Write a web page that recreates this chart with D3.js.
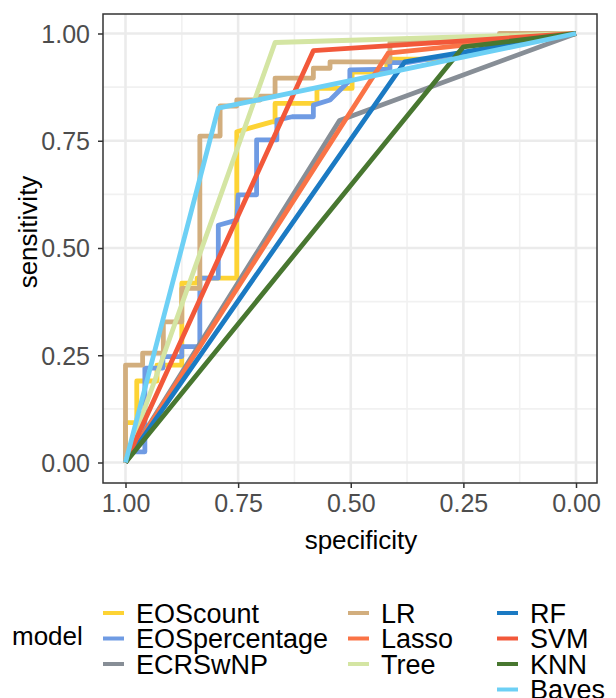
<!DOCTYPE html>
<html><head><meta charset="utf-8">
<script src="https://cdn.jsdelivr.net/npm/d3@7"></script>
<style>body{margin:0;background:#fff;} svg{display:block;font-family:"Liberation Sans",Arial,sans-serif;}</style>
</head><body>
<svg id="c" width="616" height="698"></svg>
<script>
const models = ["EOScount","EOSpercentage","ECRSwNP","LR","Lasso","Tree","RF","SVM","KNN","Bayes"];
const colors = ["#FDD334","#6F9BE3","#878E96","#D2AE7E","#FA7346","#D4E5A3","#1B7AC3","#F2583A","#487730","#6DD0F5"];
const xTicks = [1,0.75,0.5,0.25,0];
const yTicks = [0,0.25,0.5,0.75,1];

const specEOScount = [1,1,0.975,0.975,0.93,0.93,0.875,0.875,0.841,0.841,0.753,0.753,0.713,0.675,0.668,0.668,0.575,0.575,0.497,0.497,0.42,0.42,0.302,0];
const sensEOScount = [0,0.093,0.093,0.19,0.19,0.227,0.227,0.418,0.418,0.43,0.43,0.771,0.783,0.794,0.794,0.837,0.837,0.872,0.872,0.91,0.91,0.94,0.94,1];
const specEOSpercentage = [1,1,0.957,0.957,0.917,0.917,0.875,0.875,0.835,0.835,0.794,0.794,0.753,0.75,0.709,0.709,0.664,0.664,0.63,0.583,0.583,0.546,0.502,0.502,0.413,0.413,0.375,0];
const sensEOSpercentage = [0,0.025,0.025,0.22,0.22,0.247,0.247,0.27,0.27,0.43,0.43,0.553,0.565,0.624,0.624,0.752,0.752,0.798,0.806,0.806,0.833,0.845,0.891,0.915,0.917,0.932,0.932,1];
const specECRSwNP = [1,0.525,0];
const sensECRSwNP = [0,0.797,1];
const specLR = [1,1,0.962,0.962,0.916,0.916,0.875,0.875,0.835,0.835,0.79,0.79,0.753,0.753,0.701,0.701,0.668,0.668,0.583,0.583,0.546,0.546,0.413,0.413,0.17,0.17,0];
const sensLR = [0,0.227,0.227,0.255,0.255,0.328,0.328,0.406,0.406,0.761,0.761,0.831,0.831,0.845,0.845,0.854,0.854,0.896,0.896,0.919,0.919,0.934,0.934,0.98,0.98,1,1];
const specLasso = [1,0.417,0];
const sensLasso = [0,0.954,1];
const specTree = [1,0.668,0];
const sensTree = [0,0.979,1];
const specRF = [1,0.38,0];
const sensRF = [0,0.934,1];
const specSVM = [1,0.583,0];
const sensSVM = [0,0.96,1];
const specKNN = [1,0.25,0];
const sensKNN = [0,0.969,1];
const specBayes = [1,0.794,0];
const sensBayes = [0,0.826,1];

const specs = [specEOScount,specEOSpercentage,specECRSwNP,specLR,specLasso,specTree,specRF,specSVM,specKNN,specBayes];
const senss = [sensEOScount,sensEOSpercentage,sensECRSwNP,sensLR,sensLasso,sensTree,sensRF,sensSVM,sensKNN,sensBayes];

const svg = d3.select("#c");
const P = {l:103, r:597, t:14, b:483};
const x = d3.scaleLinear().domain([1,0]).range([125.5,576]);
const y = d3.scaleLinear().domain([0,1]).range([462.5,33.5]);

// grid
const minor = [0.125,0.375,0.625,0.875];
const g = svg.append("g");
g.selectAll(".mx").data(minor).join("line").attr("x1",d=>x(d)).attr("x2",d=>x(d)).attr("y1",P.t).attr("y2",P.b).attr("stroke","#F1F1F1").attr("stroke-width",1.6);
g.selectAll(".my").data(minor).join("line").attr("y1",d=>y(d)).attr("y2",d=>y(d)).attr("x1",P.l).attr("x2",P.r).attr("stroke","#F1F1F1").attr("stroke-width",1.6);
g.selectAll(".Mx").data(xTicks).join("line").attr("x1",d=>x(d)).attr("x2",d=>x(d)).attr("y1",P.t).attr("y2",P.b).attr("stroke","#EBEBEB").attr("stroke-width",2.6);
g.selectAll(".My").data(yTicks).join("line").attr("y1",d=>y(d)).attr("y2",d=>y(d)).attr("x1",P.l).attr("x2",P.r).attr("stroke","#EBEBEB").attr("stroke-width",2.6);

// lines
const line = d3.line().x(d=>x(d[0])).y(d=>y(d[1]));
models.forEach((m,i)=>{
  const pts = specs[i].map((s,j)=>[s,senss[i][j]]);
  svg.append("path").attr("d",line(pts)).attr("fill","none").attr("stroke",colors[i])
    .attr("stroke-width",4.8).attr("stroke-linejoin","round").attr("stroke-linecap","butt");
});

// border
svg.append("rect").attr("x",P.l).attr("y",P.t).attr("width",P.r-P.l).attr("height",P.b-P.t)
  .attr("fill","none").attr("stroke","#333333").attr("stroke-width",1.5);

// axes
const ax = svg.append("g").attr("transform",`translate(0,${P.b})`)
  .call(d3.axisBottom(x).tickValues(xTicks).tickFormat(d3.format(".2f")).tickSize(5).tickPadding(6));
const ay = svg.append("g").attr("transform",`translate(${P.l},0)`)
  .call(d3.axisLeft(y).tickValues(yTicks).tickFormat(d3.format(".2f")).tickSize(5).tickPadding(8));
[ax,ay].forEach(a=>{
  a.select(".domain").remove();
  a.selectAll(".tick line").attr("stroke","#333333").attr("stroke-width",1.5);
  a.selectAll(".tick text").attr("fill","#4D4D4D").style("font-size","25px").style("font-family","Liberation Sans, Arial, sans-serif");
});
ay.selectAll(".tick text").attr("dy","0.35em");

svg.append("text").attr("x",361).attr("y",549).attr("text-anchor","middle").style("font-size","26px").attr("fill","#000").text("specificity");
svg.append("text").attr("transform","translate(37,232) rotate(-90)").attr("text-anchor","middle").style("font-size","26px").attr("fill","#000").text("sensitivity");

// legend
svg.append("text").attr("x",12).attr("y",645).style("font-size","26px").attr("fill","#000").text("model");
const colX = [103,348,497];
const rowY = [613,638.5,664,689.5];
const layout = [[0,0],[0,1],[0,2],[1,0],[1,1],[1,2],[2,0],[2,1],[2,2],[2,3]];
models.forEach((m,i)=>{
  const [c,r] = layout[i];
  const lg = svg.append("g");
  lg.append("line").attr("x1",colX[c]).attr("x2",colX[c]+21).attr("y1",rowY[r]).attr("y2",rowY[r]).attr("stroke",colors[i]).attr("stroke-width",4);
  lg.append("text").attr("x",colX[c]+33).attr("y",rowY[r]+9.5).style("font-size","27px").attr("fill","#000").text(m);
});
</script>
</body></html>
